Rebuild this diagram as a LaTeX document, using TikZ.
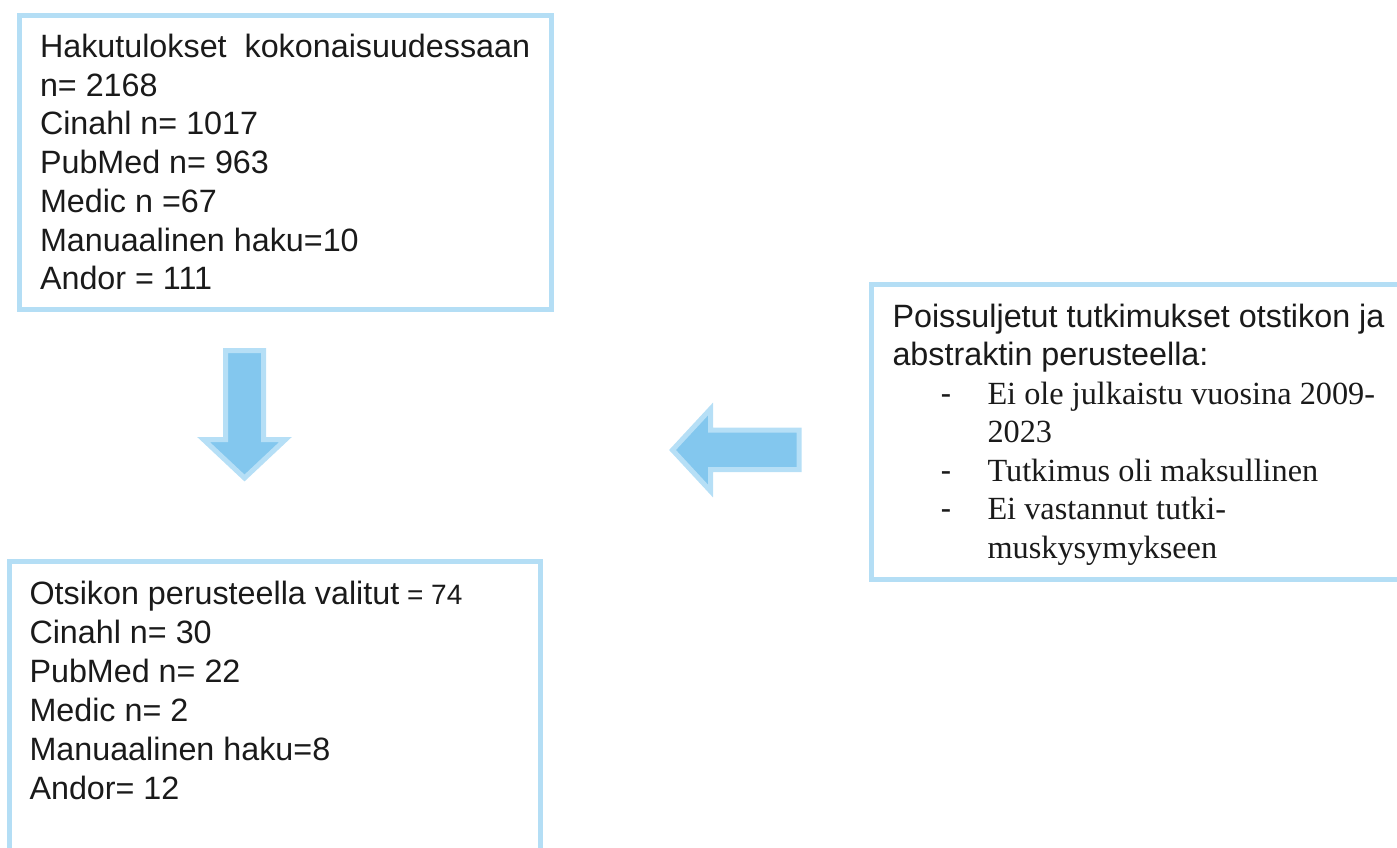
\documentclass[tikz,border=0pt]{standalone}
\usepackage{fontspec}
\setmainfont{Liberation Sans}
\newfontfamily\serifx{Liberation Serif}
\definecolor{boxline}{RGB}{180,222,245}
\definecolor{arrfill}{RGB}{131,199,238}
\definecolor{arrline}{RGB}{182,223,246}
\definecolor{ink}{RGB}{26,26,26}
\begin{document}
\begin{tikzpicture}[x=1pt,y=-1pt,
  box/.style={draw=boxline, line width=5pt, rectangle, inner sep=0pt, outer sep=0pt},
  txt/.style={anchor=base west, inner sep=0pt, outer sep=0pt, text=ink, font=\fontsize{32.3}{38}\selectfont},
  stxt/.style={txt, font=\fontsize{32.3}{38}\serifx},
  bigarrow/.style={fill=arrfill, draw=arrline, line width=5pt, line join=miter}]
\useasboundingbox (0,0) rectangle (1397,847);
\clip (0,0) rectangle (1397,847);
% boxes
\node[box, minimum width=532pt, minimum height=294.5pt] (search) at (285.5,162.25) {};
\node[box, minimum width=539pt, minimum height=295pt] (excl) at (1140.5,432) {};
\node[box, minimum width=531pt, minimum height=309pt] (sel) at (274.5,715.5) {};
% block arrows
\draw[bigarrow] (225.5,350.5) -- (263.5,350.5) -- (263.5,439.5) -- (285.5,439.5) -- (244.5,478) -- (203.5,439.5) -- (225.5,439.5) -- cycle;
\draw[bigarrow] (672.5,450) -- (710.5,409) -- (710.5,430) -- (799,430) -- (799,469.5) -- (710.5,469.5) -- (710.5,491) -- cycle;
% box 1 text
\node[txt] (s1) at (40,57.5) {Hakutulokset\ \ kokonaisuudessaan};
\node[txt] (s2) at (40,96.2) {n= 2168};
\node[txt] (s3) at (40,134.9) {Cinahl n= 1017};
\node[txt] (s4) at (40,173.6) {PubMed n= 963};
\node[txt] (s5) at (40,212.3) {Medic n =67};
\node[txt] (s6) at (40,251) {Manuaalinen haku=10};
\node[txt] (s7) at (40,289.7) {Andor = 111};
% right box text
\node[txt] (e1) at (892.5,327.5) {Poissuljetut tutkimukset otstikon ja};
\node[txt] (e2) at (892.5,365.5) {abstraktin perusteella:};
\node[txt] (d1) at (940.5,404) {-};
\node[stxt] (e3) at (987.5,404) {Ei ole julkaistu vuosina 2009-};
\node[stxt] (e4) at (987.5,442.5) {2023};
\node[txt] (d2) at (940.5,481) {-};
\node[stxt] (e5) at (987.5,481) {Tutkimus oli maksullinen};
\node[txt] (d3) at (940.5,519.5) {-};
\node[stxt] (e6) at (987.5,519.5) {Ei vastannut tutki-};
\node[stxt] (e7) at (987.5,558) {muskysymykseen};
% bottom box text
\node[txt] (v1) at (29.5,604) {Otsikon perusteella valitut{\fontsize{28}{34}\selectfont\ = 74}};
\node[txt] (v2) at (29.5,643) {Cinahl n= 30};
\node[txt] (v3) at (29.5,682) {PubMed n= 22};
\node[txt] (v4) at (29.5,721) {Medic n= 2};
\node[txt] (v5) at (29.5,760) {Manuaalinen haku=8};
\node[txt] (v6) at (29.5,799) {Andor= 12};
\end{tikzpicture}
\end{document}
